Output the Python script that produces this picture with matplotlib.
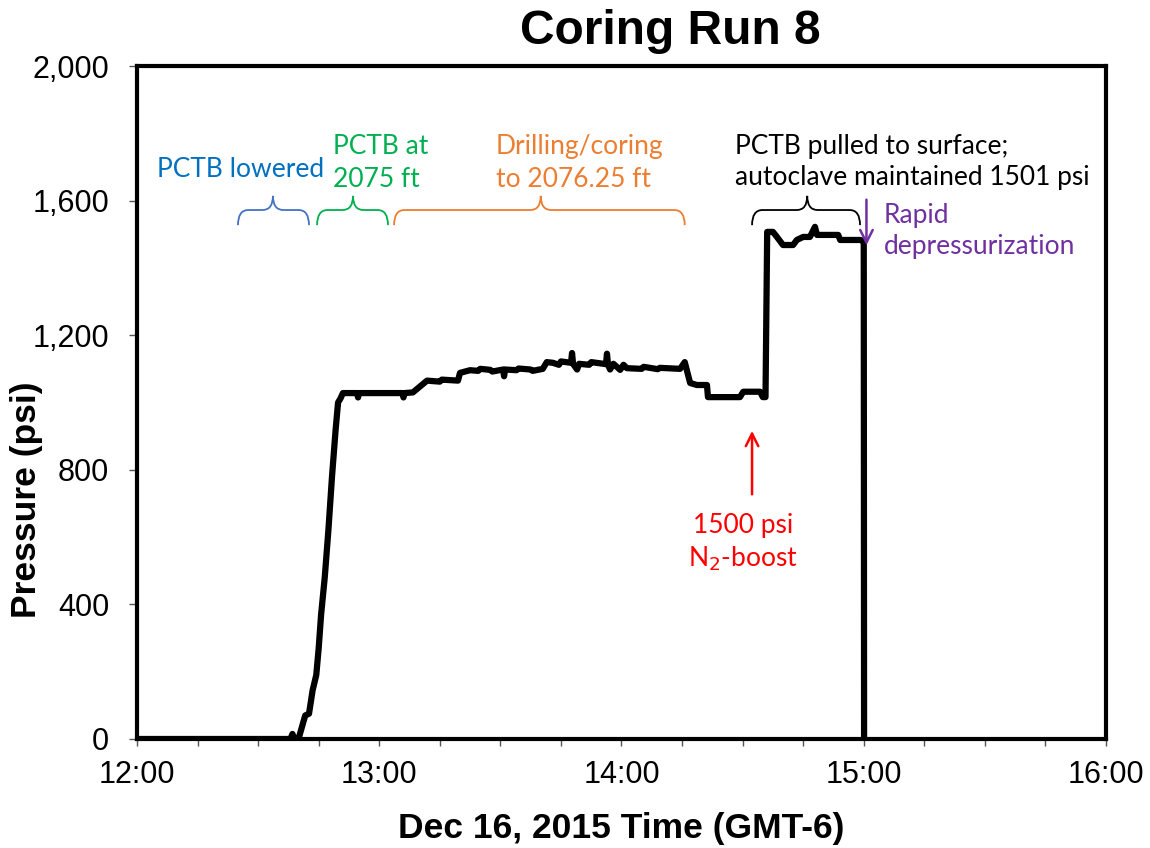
import matplotlib
matplotlib.use("Agg")
import matplotlib.pyplot as plt
import matplotlib.dates as mdates
from matplotlib.path import Path
from matplotlib.patches import PathPatch
from matplotlib.ticker import FuncFormatter
import pandas as pd

DAY = "2015-12-16 "

# ---- data ----
times = [
    "12:00:00", "12:38:00", "12:38:30", "12:39:00", "12:40:00", "12:41:40", "12:42:36",
    "12:43:30", "12:44:24", "12:45:00", "12:45:36", "12:46:30", "12:47:24", "12:48:18",
    "12:49:12", "12:49:48", "12:50:24", "12:51:00", "12:54:30", "12:54:45", "12:55:00",
    "13:05:45", "13:06:00", "13:06:15", "13:08:20", "13:09:20", "13:11:50", "13:15:00",
    "13:15:30", "13:19:30", "13:20:00", "13:22:30", "13:24:30", "13:25:00", "13:27:30",
    "13:28:00", "13:30:40", "13:30:55", "13:31:10", "13:34:00", "13:34:30", "13:37:30",
    "13:38:00", "13:40:30", "13:41:30", "13:43:00", "13:44:30", "13:45:00", "13:47:30",
    "13:47:45", "13:48:00", "13:49:00", "13:49:30", "13:52:00", "13:52:30", "13:56:10",
    "13:56:24", "13:56:40", "13:57:10", "13:58:00", "13:59:40", "14:00:30", "14:01:20",
    "14:05:00", "14:05:30", "14:09:00", "14:09:30", "14:14:30", "14:15:40", "14:17:00",
    "14:18:40", "14:21:10", "14:21:25", "14:29:20", "14:30:10", "14:34:20", "14:35:00",
    "14:35:40", "14:36:05", "14:37:30", "14:38:30", "14:40:00", "14:42:30", "14:43:25",
    "14:45:00", "14:46:40", "14:47:55", "14:48:25", "14:53:40", "14:54:10", "14:59:05",
    "15:00:00", "15:00:05",
]
pressure = [
    0, 0, 15, 0, 0, 70, 75,
    145, 190, 270, 370, 480, 620, 780,
    920, 1000, 1012, 1028, 1028, 1015, 1028,
    1028, 1015, 1028, 1030, 1040, 1065, 1062,
    1068, 1065, 1088, 1096, 1094, 1100, 1097,
    1092, 1098, 1078, 1098, 1096, 1101, 1098,
    1094, 1100, 1120, 1118, 1112, 1122, 1118,
    1147, 1115, 1098, 1115, 1112, 1120, 1114,
    1145, 1112, 1098, 1115, 1097, 1112, 1102,
    1100, 1106, 1099, 1103, 1100, 1120, 1058,
    1052, 1052, 1016, 1016, 1032, 1032, 1016,
    1016, 1507, 1507, 1492, 1468, 1468, 1483,
    1492, 1492, 1522, 1498, 1498, 1483, 1483,
    1480, 0,
]

x_start, x_end = "12:00", "16:00"
y_ticks = [0, 400, 800, 1200, 1600, 2000]

# braces: (start, end, tip, colour)
braces = [
    ("12:25:00", "12:42:36", "12:33:40", "#4472C4"),
    ("12:44:36", "13:02:10", "12:53:30", "#00B050"),
    ("13:03:40", "14:15:40", "13:40:00", "#ED7D31"),
    ("14:32:20", "14:59:05", "14:46:00", "black"),
]

t = pd.to_datetime([DAY + s for s in times])

W, H = 1150, 848
fig = plt.figure(figsize=(W / 100, H / 100), dpi=100)
ax = fig.add_axes([137 / W, 1 - 739 / H, (1106 - 137) / W, (739 - 66) / H])

ax.plot(t, pressure, color="black", lw=4.5, solid_joinstyle="round",
        solid_capstyle="round", zorder=3)

ax.set_xlim(pd.Timestamp(DAY + x_start), pd.Timestamp(DAY + x_end))
ax.set_ylim(0, 2000)
ax.set_yticks(y_ticks)
ax.yaxis.set_major_formatter(FuncFormatter(lambda v, p: f"{v:,.0f}"))
ax.xaxis.set_major_locator(mdates.HourLocator())
ax.xaxis.set_minor_locator(mdates.MinuteLocator(byminute=[15, 30, 45]))
ax.xaxis.set_major_formatter(mdates.DateFormatter("%H:%M"))

for s in ax.spines.values():
    s.set_linewidth(3.0)
    s.set_color("black")

tick_font = "Liberation Sans"
ax.tick_params(axis="both", which="both", direction="out", color="#555555", width=1.0)
ax.tick_params(axis="x", which="both", length=5, pad=10, labelsize=22)
ax.tick_params(axis="y", which="major", length=6, pad=14, labelsize=22)
for lab in ax.get_xticklabels() + ax.get_yticklabels():
    lab.set_fontfamily(tick_font)

ax.set_xlabel("Dec 16, 2015 Time (GMT-6)", fontsize=25.5, fontweight="bold",
              family=tick_font, labelpad=16)
ax.set_ylabel("Pressure (psi)", fontsize=25.5, fontweight="bold", family=tick_font)
ax.yaxis.set_label_coords(-0.097, 0.355)

fig.text(670 / W, 1 - 32 / H, "Coring Run 8", fontsize=34.5, fontweight="bold",
         family=tick_font, ha="center", va="center")


def hours(s):
    return mdates.date2num(pd.Timestamp(DAY + s))


# braces drawn in data coordinates
y_end, y_mid, y_tip = 1527, 1572, 1614


def brace(x0, x1, xt, color):
    a, b, c = hours(x0), hours(x1), hours(xt)
    r = 0.0018  # corner radius in days
    verts = [
        (a, y_end), (a, y_mid), (a + r, y_mid),
        (c - r, y_mid), (c, y_mid), (c, y_tip),
        (c, y_mid), (c + r, y_mid),
        (b - r, y_mid), (b, y_mid), (b, y_end),
    ]
    codes = [Path.MOVETO, Path.CURVE3, Path.CURVE3,
             Path.LINETO, Path.CURVE3, Path.CURVE3,
             Path.CURVE3, Path.CURVE3,
             Path.LINETO, Path.CURVE3, Path.CURVE3]
    ax.add_patch(PathPatch(Path(verts, codes), fill=False, edgecolor=color,
                           lw=1.3, zorder=4))


for x0, x1, xt, col in braces:
    brace(x0, x1, xt, col)

ann_font = ["Lato", "DejaVu Sans"]
fs = 19
ls = 1.38
ax.text(hours("12:25:45"), 1691, "PCTB lowered", color="#0070C0", fontsize=fs,
        family=ann_font, ha="center", va="center")
ax.text(hours("12:48:32"), 1712, "PCTB at\n2075 ft", color="#00B050", fontsize=fs,
        family=ann_font, ha="left", va="center", linespacing=ls)
ax.text(hours("13:28:55"), 1712, "Drilling/coring\nto 2076.25 ft", color="#ED7D31",
        fontsize=fs, family=ann_font, ha="left", va="center", linespacing=ls)
ax.text(hours("14:28:07"), 1715, "PCTB pulled to surface;\nautoclave maintained 1501 psi",
        color="black", fontsize=fs, family=ann_font, ha="left", va="center",
        linespacing=1.3)
ax.text(hours("15:05:02"), 1510, "Rapid\ndepressurization", color="#7030A0",
        fontsize=fs, family=ann_font, ha="left", va="center", linespacing=1.3)
ax.text(hours("14:30:05"), 582, "1500 psi\nN$_2$-boost", color="#FF0000",
        fontsize=fs, family=ann_font, ha="center", va="center", linespacing=1.3)

ax.annotate("", xy=(hours("15:00:40"), 1459), xytext=(hours("15:00:40"), 1611),
            arrowprops=dict(arrowstyle="->,head_length=0.9,head_width=0.45",
                            color="#7030A0", lw=1.8), zorder=5)
ax.annotate("", xy=(hours("14:32:20"), 924), xytext=(hours("14:32:20"), 719),
            arrowprops=dict(arrowstyle="->,head_length=0.9,head_width=0.45",
                            color="#FF0000", lw=1.8), zorder=5)

fig.savefig("out.png", dpi=100)
